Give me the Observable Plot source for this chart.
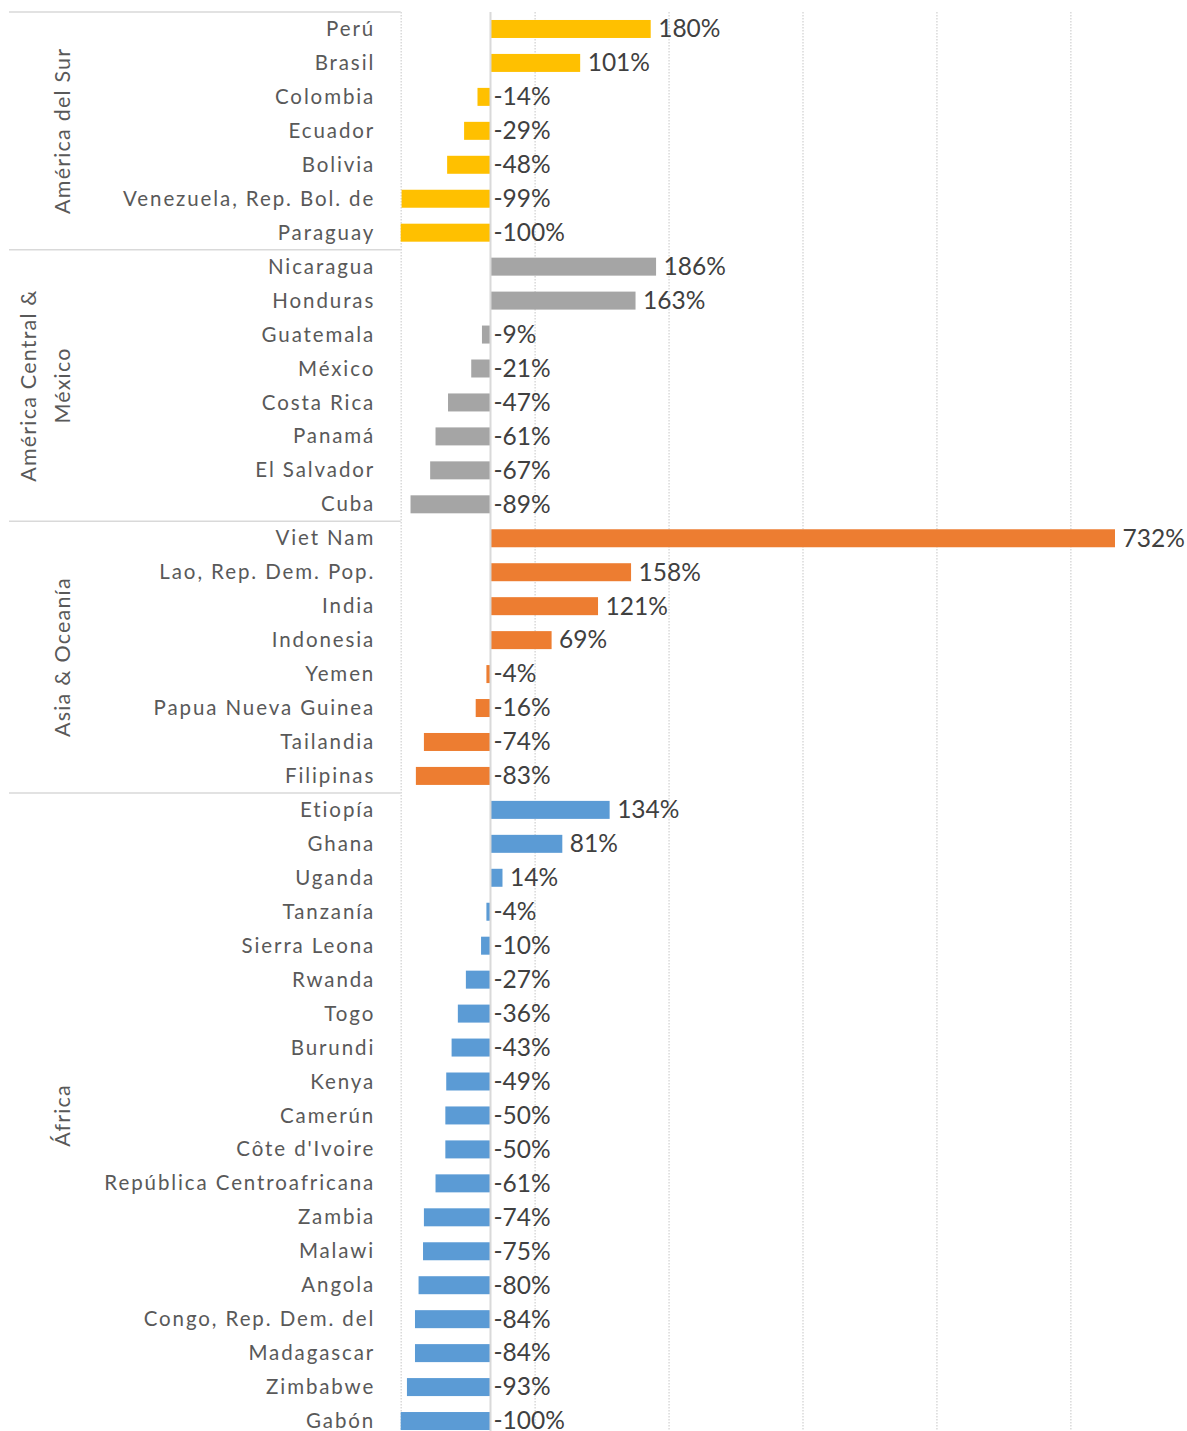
<!DOCTYPE html>
<html><head><meta charset="utf-8">
<script src="https://cdn.jsdelivr.net/npm/d3@7"></script>
<script src="https://cdn.jsdelivr.net/npm/@observablehq/plot@0.6"></script>
<style>
html,body{margin:0;padding:0;background:#fff;overflow:hidden}
#chart svg{display:block}
#chart g[aria-label="y-axis tick label"] text{letter-spacing:1.9px}
</style></head><body><div id="chart"></div>
<script>
// ---- data ----
const groups = ["América del Sur", "América Central & México", "Asia & Oceanía", "África"];
const groupLabelLines = [["América del Sur"], ["América Central &", "México"], ["Asia & Oceanía"], ["África"]];
const groupColors = ["#FFC000", "#A5A5A5", "#ED7D31", "#5B9BD5"];

const southAmericaCountries = ["Perú", "Brasil", "Colombia", "Ecuador", "Bolivia", "Venezuela, Rep. Bol. de", "Paraguay"];
const southAmericaValues = [180, 101, -14, -29, -48, -99, -100];

const centralAmericaCountries = ["Nicaragua", "Honduras", "Guatemala", "México", "Costa Rica", "Panamá", "El Salvador", "Cuba"];
const centralAmericaValues = [186, 163, -9, -21, -47, -61, -67, -89];

const asiaCountries = ["Viet Nam", "Lao, Rep. Dem. Pop.", "India", "Indonesia", "Yemen", "Papua Nueva Guinea", "Tailandia", "Filipinas"];
const asiaValues = [732, 158, 121, 69, -4, -16, -74, -83];

const africaCountries = ["Etiopía", "Ghana", "Uganda", "Tanzanía", "Sierra Leona", "Rwanda", "Togo", "Burundi", "Kenya", "Camerún", "Côte d'Ivoire", "República Centroafricana", "Zambia", "Malawi", "Angola", "Congo, Rep. Dem. del", "Madagascar", "Zimbabwe", "Gabón"];
const africaValues = [134, 81, 14, -4, -10, -27, -36, -43, -49, -50, -50, -61, -74, -75, -80, -84, -84, -93, -100];

const gridTicks = [-100, 50, 200, 350, 500, 650];
const xDomain = [-100, 700];

// ---- build table ----
const groupCountries = [southAmericaCountries, centralAmericaCountries, asiaCountries, africaCountries];
const groupValues = [southAmericaValues, centralAmericaValues, asiaValues, africaValues];
const rows = [];
groupCountries.forEach((list, gi) => list.forEach((c, i) => rows.push({group: groups[gi], country: c, value: groupValues[gi][i]})));
const countries = rows.map(d => d.country);

const pIn = 0.47;

function groupMark(index, scales) {
  const y = scales.y;
  const step = y(countries[1]) - y(countries[0]);
  const bw = step * (1 - pIn);
  const g = d3.create("svg:g");
  const bounds = [];
  groupCountries.forEach((list, gi) => {
    const top = y(list[0]) - step * pIn / 2;
    const bottom = y(list[list.length - 1]) + bw + step * pIn / 2;
    bounds.push(top);
    if (gi === groupCountries.length - 1) bounds.push(bottom);
    const lines = groupLabelLines[gi];
    const cx = 62 - (lines.length - 1) * 34;
    const t = g.append("text")
      .attr("transform", `translate(${cx},${(top + bottom) / 2}) rotate(-90)`)
      .attr("text-anchor", "middle")
      .attr("dominant-baseline", "central")
      .attr("font-size", 21.5)
      .attr("letter-spacing", "1.2px")
      .attr("fill", "#595959");
    lines.forEach((ln, li) => t.append("tspan").attr("x", 0).attr("dy", li === 0 ? 0 : 34).text(ln));
  });
  bounds.forEach(b => g.append("line")
    .attr("x1", 9).attr("x2", 400.7).attr("y1", b).attr("y2", b)
    .attr("stroke", "#d9d9d9").attr("stroke-width", 1.5));
  return g.node();
}

const chart = Plot.plot({
  width: 1187,
  height: 1431,
  marginLeft: 400.7,
  marginRight: 72,
  marginTop: 12,
  marginBottom: -7,
  x: {domain: xDomain, clamp: true, axis: null},
  y: {domain: countries, paddingInner: pIn, paddingOuter: pIn / 2},
  color: {domain: groups, range: groupColors},
  style: {fontFamily: "Lato, 'Open Sans', sans-serif", background: "#fff"},
  marks: [
    Plot.ruleX(gridTicks, {stroke: "#d9d9d9", strokeWidth: 1.5, strokeDasharray: "1.5,1.5"}),
    Plot.barX(rows, {x: "value", y: "country", fill: "group"}),
    Plot.ruleX([0], {stroke: "#d9d9d9", strokeWidth: 2}),
    Plot.axisY({tickSize: 0, tickPadding: 26, fontSize: 20.5, fill: "#595959", label: null}),
    Plot.text(rows.filter(d => d.value > 0), {
      x: "value", y: "country", text: d => d.value + "%",
      textAnchor: "start", dx: 7, fontSize: 24.5, fill: "#404040"
    }),
    Plot.text(rows.filter(d => d.value <= 0), {
      x: () => 0, y: "country", text: d => d.value + "%",
      textAnchor: "start", dx: 3, fontSize: 24.5, fill: "#404040"
    }),
    groupMark
  ]
});
document.getElementById("chart").appendChild(chart);
</script></body></html>
